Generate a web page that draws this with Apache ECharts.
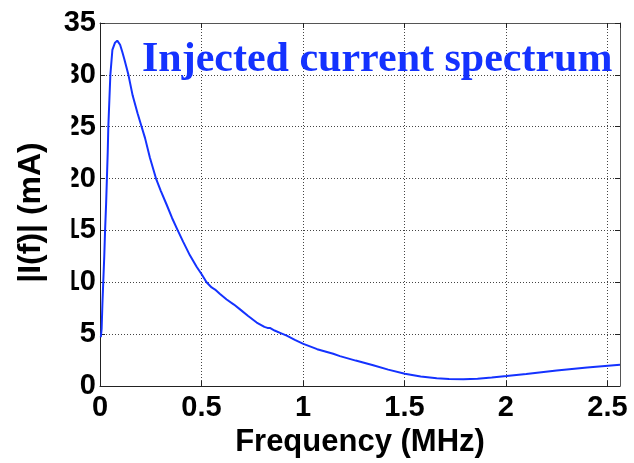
<!DOCTYPE html>
<html>
<head>
<meta charset="utf-8">
<script src="https://cdn.jsdelivr.net/npm/echarts@6/dist/echarts.min.js"></script>
<style>html,body{margin:0;padding:0;background:#fff}#c{width:634px;height:463px}</style>
</head>
<body>
<div id="c"></div>
<script>
// Frequency (MHz)
var freq = [0.004,0.008,0.012,0.016,0.021,0.025,0.030,0.034,0.038,0.041,0.046,0.051,0.061,0.074,0.085,0.092,0.099,0.11,0.12,0.14,0.161,0.185,0.205,0.222,0.246,0.276,0.30,0.328,0.355,0.383,0.41,0.443,0.476,0.50,0.525,0.55,0.567,0.59,0.624,0.66,0.69,0.73,0.772,0.81,0.825,0.837,0.86,0.89,0.92,0.96,1.002,1.07,1.149,1.182,1.26,1.346,1.42,1.502,1.58,1.659,1.72,1.79,1.86,1.93,2.003,2.1,2.25,2.4,2.562];
// |I(f)| (mA)
var current = [4.7,5.5,8,10,12.5,15,17.5,20,22.5,25,27.5,30,32.4,33.1,33.3,33.2,32.9,32.2,31.5,30,28,26.3,25,23.9,22,20,18.8,17.5,16.2,15,13.9,12.6,11.5,10.8,10,9.5,9.3,8.9,8.34,7.85,7.39,6.75,6.12,5.7,5.6,5.6,5.35,5.1,4.85,4.45,4.06,3.55,3.11,2.88,2.45,2.0,1.58,1.18,0.92,0.75,0.67,0.64,0.7,0.82,0.96,1.16,1.5,1.78,2.06];
var xTicks = [0,0.5,1,1.5,2,2.5];
var yTicks = [0,5,10,15,20,25,30,35];
var titleText = 'Injected current spectrum';
var xName = 'Frequency (MHz)';
var yName = '|I(f)| (mA)';

var data = freq.map(function(f,i){return [f,current[i]];});
function fmt(list){return function(v){
  for(var i=0;i<list.length;i++){ if(Math.abs(list[i]-v)<1e-6) return String(list[i]); }
  return '';
};}
var lab = {fontFamily:'Liberation Sans, Arial', fontWeight:'bold', fontSize:29, color:'#000'};
var chart = echarts.init(document.getElementById('c'));
chart.setOption({
  animation:false,
  backgroundColor:'#fff',
  title:{text:titleText,left:137,top:34,textStyle:{fontFamily:'Liberation Serif, Times New Roman',fontWeight:'bold',fontSize:42,color:'#1432ff'}},
  grid:{left:100,right:14,top:23,bottom:72,containLabel:false},
  xAxis:[{
    type:'value',min:0,max:2.562,interval:0.5,
    name:xName,nameLocation:'middle',nameGap:41,
    nameTextStyle:{fontFamily:'Liberation Sans, Arial',fontWeight:'bold',fontSize:31,color:'#000'},
    axisLine:{show:true,lineStyle:{color:'#222',width:1}},
    axisTick:{show:true,inside:true,length:5,lineStyle:{color:'#222'}},
    axisLabel:Object.assign({margin:7,formatter:fmt(xTicks),showMaxLabel:false},lab),
    splitLine:{show:true,lineStyle:{color:'#444',type:[1,2],width:1}}
  },{
    type:'value',position:'top',min:0,max:2.562,interval:0.5,
    axisLine:{show:true,onZero:false,lineStyle:{color:'#555',width:1}},
    axisTick:{show:true,inside:true,length:5,lineStyle:{color:'#222'}},
    axisLabel:{show:false},splitLine:{show:false}
  }],
  yAxis:[{
    type:'value',min:0,max:35,interval:5,
    name:yName,nameLocation:'middle',nameGap:53,nameRotate:90,
    nameTextStyle:{fontFamily:'Liberation Sans, Arial',fontWeight:'bold',fontSize:32,color:'#000',padding:[0,16,0,0]},
    axisLine:{show:true,lineStyle:{color:'#222',width:1}},
    axisTick:{show:true,inside:true,length:5,lineStyle:{color:'#222'}},
    axisLabel:Object.assign({margin:4,formatter:fmt(yTicks)},lab),
    splitLine:{show:true,lineStyle:{color:'#444',type:[1,2],width:1}}
  },{
    type:'value',position:'right',min:0,max:35,interval:5,
    axisLine:{show:true,onZero:false,lineStyle:{color:'#555',width:1}},
    axisTick:{show:true,inside:true,length:5,lineStyle:{color:'#222'}},
    axisLabel:{show:false},splitLine:{show:false}
  }],
  graphic:[{type:'rect',shape:{x:49,y:55,width:22.5,height:250},style:{fill:'#fff'},z:100,silent:true}],
  series:[{
    type:'line',data:data,showSymbol:false,smooth:false,
    lineStyle:{color:'#1432ff',width:2},z:5
  }]
});
</script>
</body>
</html>
